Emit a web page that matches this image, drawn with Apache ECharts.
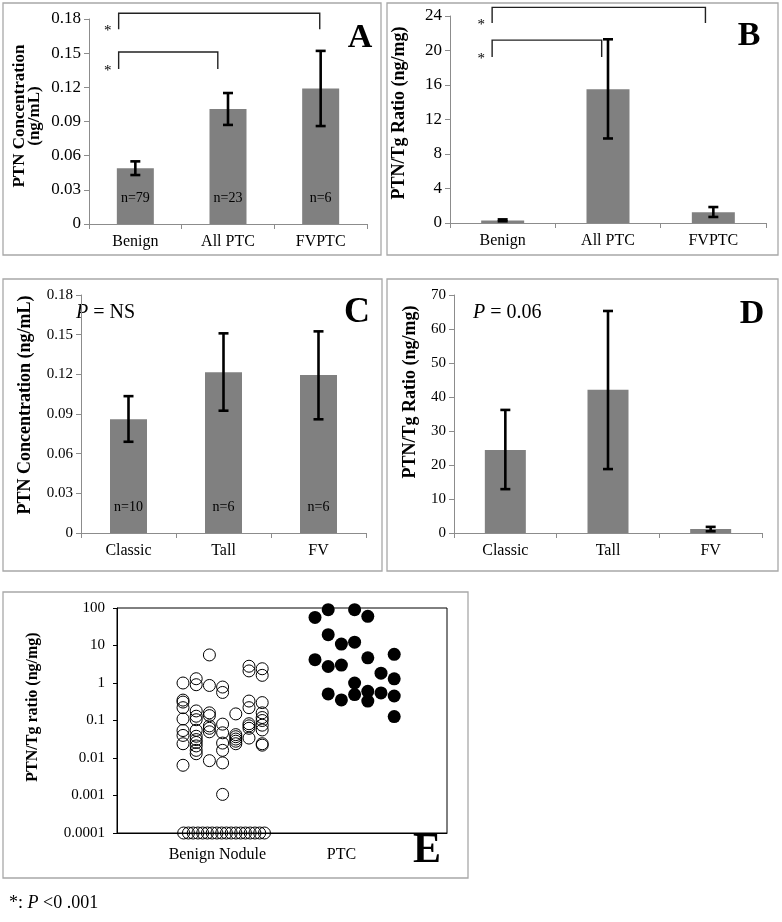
<!DOCTYPE html>
<html>
<head>
<meta charset="utf-8">
<script src="https://cdn.jsdelivr.net/npm/echarts@6/dist/echarts.min.js"></script>
<style>
html,body{margin:0;padding:0;background:#fff;}
#chart{width:782px;height:922px;}
</style>
</head>
<body>
<div id="chart"></div>
<script>
// ---------- DATA ----------
const catsA = ['Benign', 'All PTC', 'FVPTC'];
const meanA = [0.049, 0.101, 0.119];
const lowA  = [0.043, 0.087, 0.086];
const highA = [0.055, 0.115, 0.152];
const nA    = ['n=79', 'n=23', 'n=6'];

const catsB = ['Benign', 'All PTC', 'FVPTC'];
const meanB = [0.3, 15.5, 1.25];
const lowB  = [0.2, 9.8, 0.7];
const highB = [0.42, 21.3, 1.85];

const catsC = ['Classic', 'Tall', 'FV'];
const meanC = [0.086, 0.1215, 0.1195];
const lowC  = [0.069, 0.0925, 0.086];
const highC = [0.1035, 0.151, 0.1525];
const nC    = ['n=10', 'n=6', 'n=6'];

const catsD = ['Classic', 'Tall', 'FV'];
const meanD = [24.4, 42.1, 1.2];
const lowD  = [12.9, 18.8, 0.5];
const highD = [36.2, 65.3, 1.8];

// significance brackets: [fromCategory, toCategory, topValue, endValue]
const bracketsA = [[0, 2, 0.185, 0.171], [0, 1, 0.151, 0.136]];
const bracketsB = [[0, 2, 25.0, 23.2], [0, 1, 21.2, 19.25]];

// panel E (dot plot): x = jitter column position, y = PTN/Tg ratio
const benignX = [
  5,5,5,5,5,5,5,5,5,
  6,6,6,6,6,6,6,6,6,6,6,6,
  7,7,7,7,7,7,7,7,
  8,8,8,8,8,8,8,8,
  9,9,9,9,9,9,
  10,10,10,10,10,10,10,10,
  11,11,11,11,11,11,11,11,11,11,
  5.05,5.41,5.77,6.13,6.49,6.85,7.21,7.57,7.93,8.29,8.65,9.01,9.37,9.73,10.09,10.45,10.81,11.17
];
const benignY = [
  1.0,0.35,0.31,0.22,0.11,0.054,0.04,0.024,0.0064,
  1.3,0.9,0.18,0.13,0.105,0.055,0.038,0.031,0.026,0.021,0.016,0.013,
  5.6,0.86,0.16,0.135,0.072,0.062,0.05,0.0085,
  0.78,0.56,0.08,0.047,0.025,0.016,0.0074,0.00107,
  0.15,0.042,0.037,0.032,0.028,0.024,
  2.8,2.1,0.33,0.22,0.082,0.072,0.062,0.034,
  2.4,1.6,0.3,0.16,0.12,0.1,0.075,0.056,0.024,0.022,
  0.0001,0.0001,0.0001,0.0001,0.0001,0.0001,0.0001,0.0001,0.0001,0.0001,0.0001,0.0001,0.0001,0.0001,0.0001,0.0001,0.0001,0.0001
];
const ptcX = [15,16,18,19,16,17,18,15,16,17,19,21,20,21,18,16,17,18,19,19,20,21,21];
const ptcY = [56,90,90,60,19.4,10.9,12.3,4.2,2.75,3.0,4.7,5.8,1.83,1.29,1.0,0.51,0.354,0.49,0.60,0.33,0.545,0.45,0.127];
const catsE = ['Benign Nodule', 'PTC'];
const catsEPos = [7.6, 17];

// ---------- STYLE ----------
const FF = 'Liberation Serif';
const BAR = '#808080';
const AX = '#8c8c8c';

function errRender(params, api) {
  const x = api.value(0);
  const lo = api.coord([x, api.value(1)]);
  const hi = api.coord([x, api.value(2)]);
  const w = 5, st = {stroke: '#000', lineWidth: 2.6};
  return {type: 'group', children: [
    {type: 'line', shape: {x1: lo[0], y1: lo[1], x2: hi[0], y2: hi[1]}, style: st},
    {type: 'line', shape: {x1: lo[0] - w, y1: lo[1], x2: lo[0] + w, y2: lo[1]}, style: st},
    {type: 'line', shape: {x1: hi[0] - w, y1: hi[1], x2: hi[0] + w, y2: hi[1]}, style: st}
  ]};
}
function bracketRender(offs) {
  return function (params, api) {
    const bw = api.size([1, 0])[0];
    const o = offs[params.dataIndex];
    const p1 = api.coord([api.value(0), api.value(2)]);
    const p2 = api.coord([api.value(1), api.value(2)]);
    const pe = api.coord([api.value(0), api.value(3)]);
    const x1 = p1[0] + o[0] * bw, x2 = p2[0] + o[1] * bw;
    return {type: 'group', children: [
      {type: 'polyline', shape: {points: [[x1, pe[1]], [x1, p1[1]], [x2, p1[1]], [x2, pe[1]]]},
       style: {stroke: '#222', lineWidth: 1.4, fill: null}},
      {type: 'text', x: x1 - 11, y: pe[1] + 2,
       style: {text: '*', font: '15px ' + FF, fill: '#000', align: 'center', verticalAlign: 'middle'}}
    ]};
  };
}
function errData(low, high) { return low.map((l, i) => [i, l, high[i]]); }

function catAxis(idx, cats) {
  return {type: 'category', gridIndex: idx, data: cats,
    axisLine: {lineStyle: {color: AX}}, axisTick: {show: true, length: 5, lineStyle: {color: AX}},
    axisLabel: {color: '#000', fontFamily: FF, fontSize: 16, margin: 10}};
}
function valAxis(idx, max, interval, fs) {
  return {type: 'value', gridIndex: idx, min: 0, max: max, interval: interval,
    splitLine: {show: false},
    axisLine: {show: true, lineStyle: {color: AX}},
    axisTick: {show: true, length: 5, lineStyle: {color: AX}},
    axisLabel: {color: '#000', fontFamily: FF, fontSize: fs, margin: 8}};
}
function barSeries(idx, data, width, nLabels) {
  const s = {type: 'bar', xAxisIndex: idx, yAxisIndex: idx, data: data, barWidth: width,
    itemStyle: {color: BAR}, z: 2};
  if (nLabels) {
    s.label = {show: true, position: 'insideBottom', distance: 19, color: '#000',
      fontFamily: FF, fontSize: 14, formatter: p => nLabels[p.dataIndex]};
  }
  return s;
}
function errSeries(idx, low, high) {
  return {type: 'custom', xAxisIndex: idx, yAxisIndex: idx, data: errData(low, high),
    encode: {x: 0, y: [1, 2]}, renderItem: errRender, z: 5, clip: false};
}
function bracketSeries(idx, data, offs) {
  return {type: 'custom', xAxisIndex: idx, yAxisIndex: idx, data: data,
    encode: {x: [0, 1], y: [2, 3]}, renderItem: bracketRender(offs), z: 5, clip: false};
}

function yTitle(text, x, y, fs, lh) {
  return {type: 'text', x: x, y: y, rotation: Math.PI / 2,
    style: {text: text, font: 'bold ' + fs + 'px ' + FF, fill: '#000', align: 'center',
      verticalAlign: 'middle', lineHeight: lh || fs}};
}
function letter(t, x, y, fs) {
  return {type: 'text', x: x, y: y,
    style: {text: t, font: 'bold ' + fs + 'px ' + FF, fill: '#000', align: 'center', verticalAlign: 'middle'}};
}
function box(x, y, w, h) {
  return {type: 'rect', shape: {x: x, y: y, width: w, height: h},
    style: {fill: null, stroke: '#a8a8a8', lineWidth: 1.3}, z: -1};
}

const chart = echarts.init(document.getElementById('chart'), null, {renderer: 'canvas'});
const option = {
  animation: false,
  backgroundColor: '#fff',
  textStyle: {fontFamily: FF},
  grid: [
    {left: 89, right: 782 - 367, top: 19, bottom: 922 - 224},
    {left: 450, right: 782 - 766, top: 16, bottom: 922 - 223},
    {left: 81, right: 782 - 366, top: 295, bottom: 922 - 533},
    {left: 454, right: 782 - 762, top: 295, bottom: 922 - 533},
    {left: 117, right: 782 - 447, top: 608, bottom: 922 - 833, show: true, borderColor: '#000', borderWidth: 1}
  ],
  xAxis: [
    catAxis(0, catsA), catAxis(1, catsB), catAxis(2, catsC), catAxis(3, catsD),
    {type: 'value', gridIndex: 4, min: 0, max: 25, splitLine: {show: false},
      axisLine: {lineStyle: {color: '#000'}}, axisTick: {show: false},
      axisLabel: {customValues: catsEPos, color: '#000', fontFamily: FF, fontSize: 16, margin: 14,
        formatter: v => catsE[catsEPos.indexOf(v)] || ''}}
  ],
  yAxis: [
    valAxis(0, 0.18, 0.03, 17), valAxis(1, 24, 4, 17), valAxis(2, 0.18, 0.03, 15), valAxis(3, 70, 10, 15),
    {type: 'log', gridIndex: 4, logBase: 10, min: 0.0001, max: 100, splitLine: {show: false},
      axisLine: {show: true, lineStyle: {color: '#000'}},
      axisTick: {show: true, length: 4, lineStyle: {color: '#000'}},
      axisLabel: {color: '#000', fontFamily: FF, fontSize: 15, margin: 12,
        formatter: v => String(Number(Number(v).toPrecision(1)))}}
  ],
  series: [
    barSeries(0, meanA, 37, nA), errSeries(0, lowA, highA),
    bracketSeries(0, bracketsA, [[-0.18, -0.01], [-0.18, -0.11]]),
    barSeries(1, meanB, 43), errSeries(1, lowB, highB),
    bracketSeries(1, bracketsB, [[-0.1, -0.075], [-0.1, -0.06]]),
    barSeries(2, meanC, 37, nC), errSeries(2, lowC, highC),
    barSeries(3, meanD, 41), errSeries(3, lowD, highD),
    {type: 'scatter', xAxisIndex: 4, yAxisIndex: 4, symbol: 'circle', symbolSize: 12,
      data: benignX.map((x, i) => [x, benignY[i]]),
      itemStyle: {color: 'rgba(0,0,0,0)', borderColor: '#000', borderWidth: 1, opacity: 1}, z: 3},
    {type: 'scatter', xAxisIndex: 4, yAxisIndex: 4, symbol: 'circle', symbolSize: 13,
      data: ptcX.map((x, i) => [x, ptcY[i]]),
      itemStyle: {color: '#000', opacity: 1}, z: 3}
  ],
  graphic: [
    box(3, 3, 378, 252), box(387, 3, 391, 252), box(3, 279, 379, 292), box(387, 279, 391, 292), box(3, 592, 465, 286),
    yTitle('PTN Concentration\n(ng/mL)', 27, 116, 17, 15),
    yTitle('PTN/Tg Ratio (ng/mg)', 399, 113, 18),
    yTitle('PTN Concentration (ng/mL)', 25, 405, 18),
    yTitle('PTN/Tg Ratio (ng/mg)', 410, 392, 18),
    yTitle('PTN/Tg ratio (ng/mg)', 33, 707, 16),
    letter('A', 360, 38, 34), letter('B', 749, 36, 34), letter('C', 357, 313, 36),
    letter('D', 752, 314, 34), letter('E', 427, 851, 42),
    {type: 'text', x: 76, y: 313, style: {text: '{i|P} = NS', align: 'left', verticalAlign: 'middle',
      font: '20px ' + FF, fill: '#000', rich: {i: {fontStyle: 'italic', fontFamily: FF, fontSize: 20}}}},
    {type: 'text', x: 473, y: 313, style: {text: '{i|P} = 0.06', align: 'left', verticalAlign: 'middle',
      font: '20px ' + FF, fill: '#000', rich: {i: {fontStyle: 'italic', fontFamily: FF, fontSize: 20}}}},
    {type: 'text', x: 9, y: 903, style: {text: '*: {i|P} <0 .001', align: 'left', verticalAlign: 'middle',
      font: '18px ' + FF, fill: '#000', rich: {i: {fontStyle: 'italic', fontFamily: FF, fontSize: 18}}}}
  ]
};
chart.setOption(option);
</script>
</body>
</html>
